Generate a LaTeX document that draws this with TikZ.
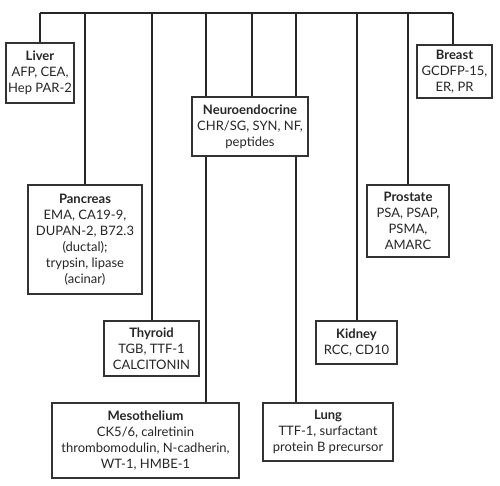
\documentclass[tikz,border=0pt]{standalone}
\usepackage{fontspec}
\setmainfont{Lato}
\usepackage{tikz}
\usetikzlibrary{positioning, calc, backgrounds}

\begin{document}
\begin{tikzpicture}[x=1pt, y=-1pt,
            box/.style={draw=black!80, line width=1.1pt, fill=white, rectangle, align=center,
                        inner sep=0pt, font=\fontsize{13}{16}\selectfont, text=black!85},
            link/.style={draw=black!85, line width=1.1pt}]

            \useasboundingbox (0,0) rectangle (500,485);

            \node[box, minimum width=68, minimum height=60] (liver) at (40,73)
                {\textbf{Liver}\\AFP, CEA,\\Hep PAR-2};
            \node[box, minimum width=75, minimum height=53] (breast) at (454.5,71.5)
                {\textbf{Breast}\\GCDFP-15,\\ER, PR};
            \node[box, minimum width=116, minimum height=59] (neuro) at (250,126.5)
                {\textbf{Neuroendocrine}\\CHR/SG, SYN, NF,\\peptides};
            \node[box, minimum width=114, minimum height=109] (pancreas) at (85,239.5)
                {\textbf{Pancreas}\\EMA, CA19-9,\\DUPAN-2, B72.3\\(ductal);\\trypsin, lipase\\(acinar)};
            \node[box, minimum width=82, minimum height=72] (prostate) at (408,221)
                {\textbf{Prostate}\\PSA, PSAP,\\PSMA,\\AMARC};
            \node[box, minimum width=95, minimum height=55] (thyroid) at (151.5,348.5)
                {\textbf{Thyroid}\\TGB, TTF-1\\CALCITONIN};
            \node[box, minimum width=81, minimum height=43] (kidney) at (356.5,342.5)
                {\textbf{Kidney}\\RCC, CD10};
            \node[box, minimum width=187, minimum height=75] (meso) at (145.5,440.5)
                {\textbf{Mesothelium}\\CK5/6, calretinin\\thrombomodulin, N-cadherin,\\WT-1, HMBE-1};
            \node[box, minimum width=130, minimum height=58] (lung) at (328,432)
                {\textbf{Lung}\\TTF-1, surfactant\\protein B precursor};

            % top bar
            \coordinate (tLiver) at (40,13);
            \coordinate (tPancreas) at (85,13);
            \coordinate (tThyroid) at (152,13);
            \coordinate (tMeso) at (206,13);
            \coordinate (tNeuro) at (252,13);
            \coordinate (tLung) at (296,13);
            \coordinate (tKidney) at (357,13);
            \coordinate (tProstate) at (408,13);
            \coordinate (tBreast) at (453,13);

            \begin{scope}[on background layer]
            \draw[link] (tLiver) -- (tBreast);
            \draw[link] (tLiver) -- (tLiver |- liver.north);
            \draw[link] (tPancreas) -- (tPancreas |- pancreas.north);
            \draw[link] (tThyroid) -- (tThyroid |- thyroid.north);
            \draw[link] (tMeso) -- (tMeso |- meso.north);
            \draw[link] (tNeuro) -- (tNeuro |- neuro.north);
            \draw[link] (tLung) -- (tLung |- lung.north);
            \draw[link] (tKidney) -- (tKidney |- kidney.north);
            \draw[link] (tProstate) -- (tProstate |- prostate.north);
            \draw[link] (tBreast) -- (tBreast |- breast.north);
            \end{scope}
\end{tikzpicture}
\end{document}
